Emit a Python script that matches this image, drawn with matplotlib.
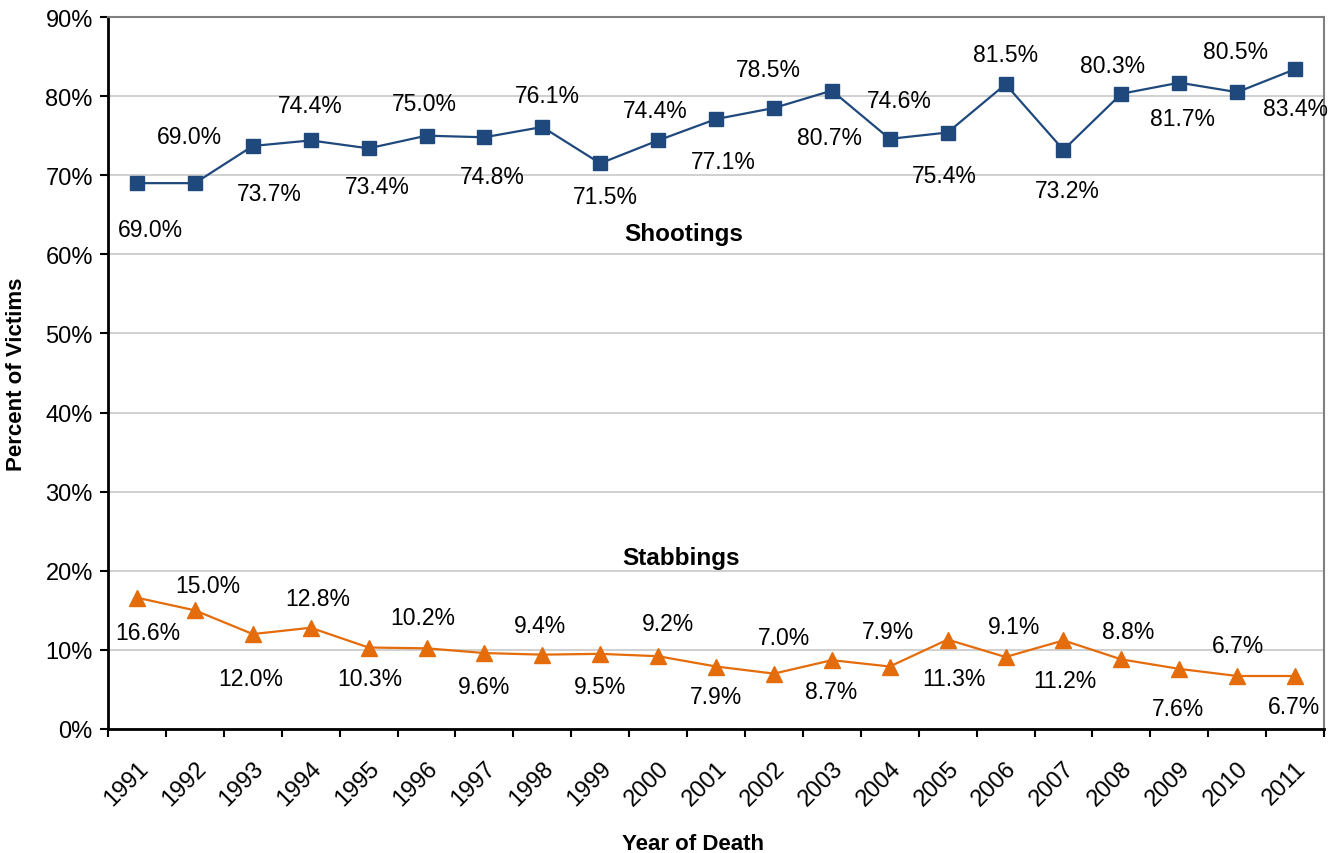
import numpy as np
import matplotlib
matplotlib.use("Agg")
import matplotlib.pyplot as plt
from matplotlib.ticker import FixedLocator, PercentFormatter

plt.rcParams["font.family"] = ["Liberation Sans", "DejaVu Sans"]

years = list(range(1991, 2012))
shootings = [69.0, 69.0, 73.7, 74.4, 73.4, 75.0, 74.8, 76.1, 71.5, 74.4, 77.1,
             78.5, 80.7, 74.6, 75.4, 81.5, 73.2, 80.3, 81.7, 80.5, 83.4]
stabbings = [16.6, 15.0, 12.0, 12.8, 10.3, 10.2, 9.6, 9.4, 9.5, 9.2, 7.9,
             7.0, 8.7, 7.9, 11.3, 9.1, 11.2, 8.8, 7.6, 6.7, 6.7]

# label offsets in pixels (dx, dy), as they were dragged around in the original
shoot_off = [(13, -46), (-5, 47), (17, -48), (0, 35), (9, -38), (-2, 32), (8, -39),
             (5, 31), (5, -33), (-3, 30), (7, -42), (-6, 38), (-2, -47), (10, 38),
             (-3, -43), (0, 30), (4, -41), (-9, 28), (3, -36), (-2, 41), (0, -39)]
stab_off = [(11, -35), (13, 25), (-2, -44), (7, 29), (1, -31), (-4, 31), (0, -33),
            (-2, 29), (0, -33), (10, 33), (0, -30), (10, 36), (-1, -31), (-2, 35),
            (6, -39), (9, 31), (1, -40), (7, 28), (-1, -40), (1, 30), (-1, -31)]

navy = "#1F497D"
orange = "#E46C0A"

fig = plt.figure(figsize=(13.37, 8.54), dpi=100)
ax = fig.add_axes([0.0808, 0.1452, 0.9095, 0.8337])

x = np.arange(len(years))
ax.plot(x, shootings, color=navy, lw=1.6, marker="s", markersize=10, zorder=3)
ax.plot(x, stabbings, color=orange, lw=1.6, marker="^", markersize=11, zorder=3)

for xi, v, (dx, dy) in zip(x, shootings, shoot_off):
    ax.annotate(f"{v:.1f}%", (xi, v), xytext=(dx, dy), textcoords="offset pixels",
                ha="center", va="center", fontsize=16.5)
for xi, v, (dx, dy) in zip(x, stabbings, stab_off):
    ax.annotate(f"{v:.1f}%", (xi, v), xytext=(dx, dy), textcoords="offset pixels",
                ha="center", va="center", fontsize=16.5)

ax.text(9.45, 62.6, "Shootings", ha="center", va="center", fontsize=17.5, fontweight="bold")
ax.text(9.4, 21.7, "Stabbings", ha="center", va="center", fontsize=17.5, fontweight="bold")

ax.set_xlim(-0.5, len(years) - 0.5)
ax.set_ylim(0, 90)
ax.set_yticks(np.arange(0, 91, 10))
ax.yaxis.set_major_formatter(PercentFormatter(decimals=0))
ax.grid(axis="y", color="#C8C8C8", lw=1.2, zorder=0)

# tick marks at category boundaries, labels at centers
ax.xaxis.set_major_locator(FixedLocator(np.arange(-0.5, len(years), 1.0)))
ax.xaxis.set_minor_locator(FixedLocator(x))
ax.set_xticklabels([])
ax.set_xticklabels([str(y) for y in years], minor=True)
ax.tick_params(axis="x", which="major", direction="out", length=6, width=1.5)
ax.tick_params(axis="x", which="minor", length=0, pad=20, labelsize=17)
plt.setp(ax.get_xticklabels(minor=True), rotation=45, ha="right", rotation_mode="anchor")
ax.tick_params(axis="y", direction="out", length=6, width=1.5, pad=5, labelsize=17)

for s in ["left", "bottom"]:
    ax.spines[s].set_color("black")
    ax.spines[s].set_linewidth(2)
for s in ["top", "right"]:
    ax.spines[s].set_color("#808080")
    ax.spines[s].set_linewidth(1.5)

ax.set_ylabel("Percent of Victims", fontsize=16, fontweight="bold")
ax.set_xlabel("Year of Death", fontsize=16, fontweight="bold")
ax.yaxis.set_label_coords(-0.067, 0.5)
ax.xaxis.set_label_coords(0.481, -0.146)

fig.savefig("out.png", dpi=100)
